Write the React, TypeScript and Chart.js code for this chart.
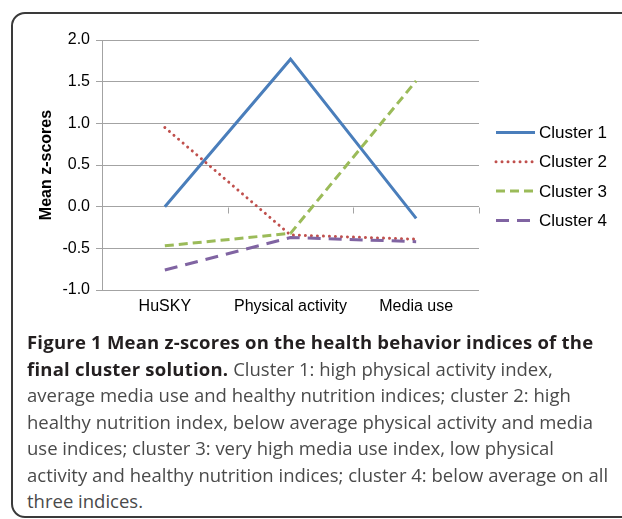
import React, { useEffect, useRef } from "react";
import { Chart, registerables } from "chart.js";

Chart.register(...registerables);

const categories = ["HuSKY", "Physical activity", "Media use"];
const seriesNames = ["Cluster 1", "Cluster 2", "Cluster 3", "Cluster 4"];
const cluster1 = [0.0, 1.77, -0.14];
const cluster2 = [0.95, -0.34, -0.39];
const cluster3 = [-0.47, -0.32, 1.51];
const cluster4 = [-0.76, -0.37, -0.42];
const yTicks = [-1.0, -0.5, 0.0, 0.5, 1.0, 1.5, 2.0];

const captionBold1 = "Figure 1 Mean z-scores on the health behavior indices of the";
const captionBold2 = "final cluster solution.";
const captionLines = [
  " Cluster 1: high physical activity index,",
  "average media use and healthy nutrition indices; cluster 2: high",
  "healthy nutrition index, below average physical activity and media",
  "use indices; cluster 3: very high media use index, low physical",
  "activity and healthy nutrition indices; cluster 4: below average on all",
  "three indices.",
];

const FONT = "'Liberation Sans', Arial, sans-serif";
const GRID = "#A3A3A3";

const styles = [
  { color: "#4A7EBB", dash: [] as number[], cap: "butt" },
  { color: "#C0504D", dash: [0.01, 6], cap: "round" },
  { color: "#9BBB59", dash: [9, 5], cap: "butt" },
  { color: "#8064A2", dash: [13, 8], cap: "butt" },
];

const zeroTicks = {
  id: "zeroTicks",
  beforeDatasetsDraw(chart: any) {
    const { ctx } = chart;
    const xs = chart.scales.x;
    const ys = chart.scales.y;
    const y0 = Math.round(ys.getPixelForValue(0)) + 0.5;
    ctx.save();
    ctx.strokeStyle = GRID;
    ctx.lineWidth = 1;
    for (let i = 0; i <= categories.length; i++) {
      const px = Math.round(xs.getPixelForValue(i - 0.5)) + 0.5;
      ctx.beginPath();
      ctx.moveTo(px, y0);
      ctx.lineTo(px, y0 + 6);
      ctx.stroke();
    }
    ctx.restore();
  },
};

const customLegend = {
  id: "customLegend",
  afterDraw(chart: any) {
    const { ctx, chartArea } = chart;
    const x1 = chartArea.right + 17;
    const x2 = x1 + 39;
    ctx.save();
    chart.data.datasets.forEach((ds: any, i: number) => {
      const y = chartArea.top + 92.5 + i * 29.3;
      ctx.beginPath();
      ctx.strokeStyle = ds.borderColor;
      ctx.lineWidth = ds.borderWidth;
      ctx.lineCap = ds.borderCapStyle;
      ctx.setLineDash(ds.borderDash || []);
      ctx.moveTo(x1, y);
      ctx.lineTo(x2, y);
      ctx.stroke();
      ctx.setLineDash([]);
      ctx.fillStyle = "#000";
      ctx.font = "17px " + FONT;
      ctx.textAlign = "left";
      ctx.textBaseline = "middle";
      ctx.fillText(ds.label, x2 + 4, y + 1);
    });
    ctx.restore();
  },
};

function ChartView() {
  const ref = useRef<HTMLCanvasElement>(null);
  useEffect(() => {
    if (!ref.current) return;
    const values = [cluster1, cluster2, cluster3, cluster4];
    const chart = new Chart(ref.current, {
      type: "line",
      data: {
        labels: categories,
        datasets: values.map((v, i) => ({
          label: seriesNames[i],
          data: v,
          borderColor: styles[i].color,
          backgroundColor: styles[i].color,
          borderWidth: 3,
          borderDash: styles[i].dash,
          borderCapStyle: styles[i].cap as any,
          pointRadius: 0,
          tension: 0,
          fill: false,
          order: 4 - i,
        })),
      },
      options: {
        responsive: false,
        animation: false,
        events: [],
        layout: { padding: { top: 40, right: 143, left: 0, bottom: 0 } },
        plugins: {
          legend: { display: false },
          tooltip: { enabled: false },
          title: { display: false },
        },
        scales: {
          x: {
            type: "category",
            offset: true,
            grid: { display: false, drawTicks: false },
            border: { display: false },
            ticks: {
              color: "#000",
              font: { family: FONT, size: 16 },
              padding: 7,
              maxRotation: 0,
              autoSkip: false,
            },
            afterFit(scale: any) {
              scale.height = 40;
            },
          },
          y: {
            min: -1,
            max: 2,
            afterBuildTicks(scale: any) {
              scale.ticks = yTicks.map((v) => ({ value: v }));
            },
            grid: { color: GRID, lineWidth: 1, drawTicks: true, tickLength: 6 },
            border: { display: true, color: GRID, width: 1 },
            ticks: {
              color: "#000",
              font: { family: FONT, size: 16 },
              padding: 6,
              callback: (v: any) => Number(v).toFixed(1),
            },
            title: {
              display: true,
              text: "Mean z-scores",
              color: "#000",
              font: { family: FONT, size: 16, weight: "bold" },
              padding: { top: 37, bottom: 0 },
            },
            afterFit(scale: any) {
              scale.width = 102;
            },
          },
        },
      },
      plugins: [zeroTicks, customLegend],
    });
    return () => chart.destroy();
  }, []);
  return (
    <canvas
      ref={ref}
      width={622}
      height={330}
      style={{ position: "absolute", left: 0, top: 0, width: 622, height: 330, display: "block" }}
    />
  );
}

export default function App() {
  const lineStyle: React.CSSProperties = {
    position: "absolute",
    left: 27,
    whiteSpace: "nowrap",
    height: 26.5,
    lineHeight: "26.5px",
  };
  const bold: React.CSSProperties = { fontWeight: 700, color: "#231f20", letterSpacing: 0.22 };
  return (
    <div
      style={{
        position: "absolute",
        left: 0,
        top: 0,
        width: 622,
        height: 519,
        overflow: "hidden",
        background: "#fff",
        fontFamily: "'Open Sans', sans-serif",
        fontSize: 18.5,
      }}
    >
      <div
        style={{
          position: "absolute",
          left: 11,
          top: 12,
          width: 660,
          height: 506,
          border: "2px solid #3a3a3a",
          borderRadius: 14,
          boxSizing: "border-box",
        }}
      />
      <ChartView />
      <div style={{ ...lineStyle, ...bold, top: 329 }}>{captionBold1}</div>
      <div style={{ ...lineStyle, top: 355.5, color: "#4a4a4a" }}>
        <span style={bold}>{captionBold2}</span>
        {captionLines[0]}
      </div>
      {captionLines.slice(1).map((t, i) => (
        <div key={i} style={{ ...lineStyle, top: 382 + i * 26.5, color: "#4a4a4a" }}>
          {t}
        </div>
      ))}
    </div>
  );
}
